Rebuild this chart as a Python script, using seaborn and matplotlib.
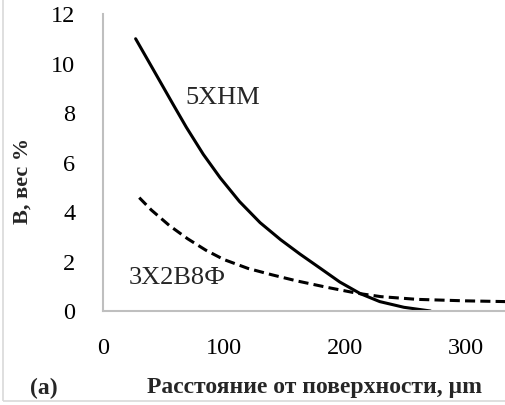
import numpy as np
import pandas as pd
import matplotlib
matplotlib.use("Agg")
import matplotlib.pyplot as plt
import seaborn as sns
from matplotlib.patches import Rectangle

# ---- data ----
x_5xnm = [27, 42, 58, 69, 83, 97, 113, 130, 147, 163, 180, 196, 213, 229, 249, 271]
y_5xnm = [11.0, 9.72, 8.35, 7.42, 6.33, 5.38, 4.42, 3.57, 2.88, 2.3, 1.72, 1.17, 0.7, 0.38, 0.15, 0.0]

x_3x2 = [30, 40, 55, 70, 85, 100, 120, 140, 160, 185, 210, 230, 260, 300, 333]
y_3x2 = [4.58, 4.08, 3.45, 2.92, 2.46, 2.08, 1.72, 1.46, 1.22, 0.96, 0.72, 0.58, 0.47, 0.41, 0.38]

series_names = ["5ХНМ", "3Х2В8Ф"]
x_ticks = [0, 100, 200, 300]
y_ticks = [0, 2, 4, 6, 8, 10, 12]
x_label = "Расстояние от поверхности, µm"
y_label = "B, вес %"
panel_label = "(a)"

df = pd.concat([
    pd.DataFrame({"x": x_5xnm, "y": y_5xnm, "steel": series_names[0]}),
    pd.DataFrame({"x": x_3x2, "y": y_3x2, "steel": series_names[1]}),
], ignore_index=True)

sns.set_style("white")
plt.rcParams["font.family"] = ["Liberation Serif", "DejaVu Serif"]

W, H = 506, 405
fig = plt.figure(figsize=(W / 100, H / 100), dpi=100)
ax = fig.add_axes([103 / W, (H - 311) / H, (W - 103) / W, (311 - 14) / H])

sns.lineplot(data=df, x="x", y="y", style="steel", color="black",
             dashes={series_names[0]: "", series_names[1]: (3.3, 1.7)},
             linewidth=2.2, legend=False, ax=ax, sort=False, estimator=None)
for ln in ax.get_lines():
    ln.set_solid_joinstyle("round")
    ln.set_solid_capstyle("round")

ax.set_xlim(0, 333.5)
ax.set_ylim(0, 12)
ax.set_xticks(x_ticks)
ax.set_yticks(y_ticks)

grey = "#BFBFBF"
for side in ["top", "right"]:
    ax.spines[side].set_visible(False)
for side in ["left", "bottom"]:
    ax.spines[side].set_color(grey)
    ax.spines[side].set_linewidth(1.5)
ax.tick_params(axis="both", direction="inout", length=13, width=1.5,
               color=grey, labelsize=17.5, labelcolor="black")
ax.tick_params(axis="y", pad=13.5)
ax.tick_params(axis="x", pad=13)

ax.set_xlabel(x_label, fontsize=17, fontweight="bold")
ax.set_ylabel(y_label, fontsize=16, fontweight="bold")
ax.xaxis.label.set_va("center")
ax.yaxis.label.set_va("center")
ax.xaxis.set_label_coords(0.5236, -0.259)
ax.yaxis.set_label_coords(-0.1985, 0.4377)

ax.text(99.3, 8.6, series_names[0], fontsize=19, ha="center", va="center")
ax.text(61.7, 1.33, series_names[1], fontsize=19, ha="center", va="center")

fig.text(44 / W, 1 - 388 / H, panel_label, fontsize=17, fontweight="bold",
         ha="center", va="center")

fig.patches.append(Rectangle((3.5 / W, 4 / H), 2, 2, transform=fig.transFigure,
                             fill=False, edgecolor="#D9D9D9", linewidth=1.2,
                             figure=fig))

fig.savefig("out.png", dpi=100)
